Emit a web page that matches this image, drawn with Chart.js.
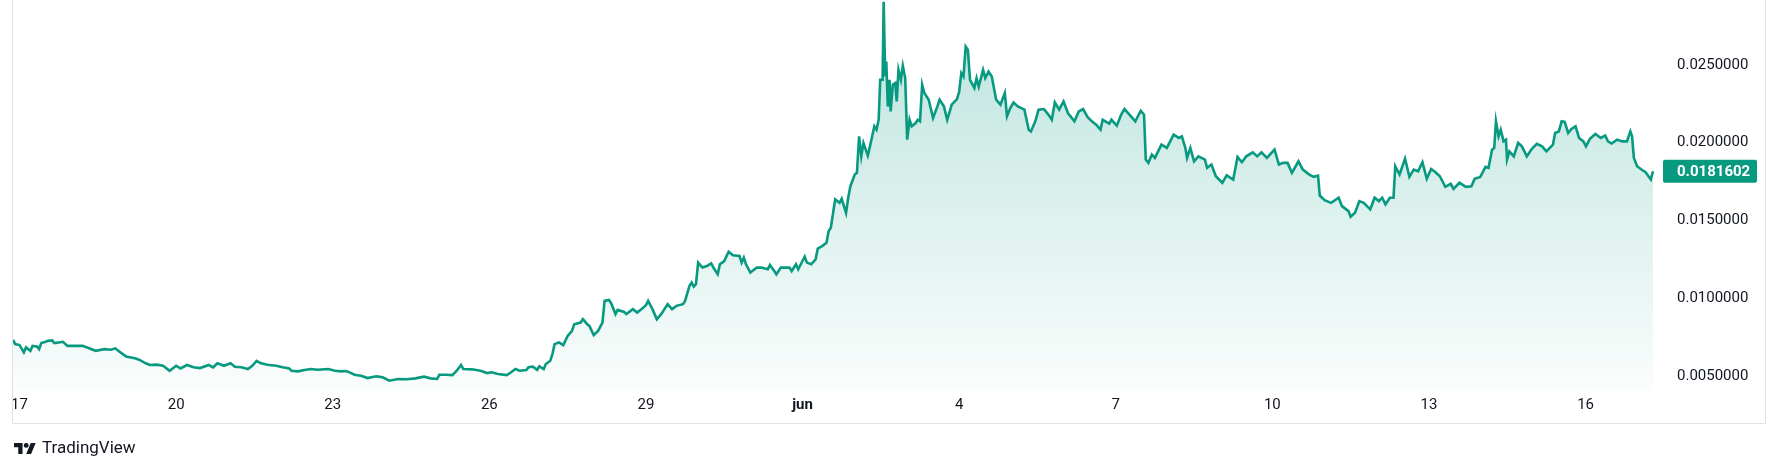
<!DOCTYPE html>
<html>
<head>
<meta charset="utf-8">
<script src="https://cdn.jsdelivr.net/npm/chart.js"></script>
<style>
  html, body { margin: 0; padding: 0; background: #fff; }
  canvas { display: block; }
</style>
</head>
<body>
<canvas id="priceChart" width="1778" height="471"></canvas>
<script>
// hours since 17 may 00:00
const hours = [
  -3, -2, 0, 2, 3, 5, 6, 8, 9, 10, 12, 13, 15, 16, 18, 20, 22, 26, 29, 32, 35, 39, 42, 44, 46, 49, 53, 55, 58, 60,
  63, 66, 69, 72, 74, 77, 80, 83, 87, 89, 91, 94, 97, 99, 102, 105, 107, 109, 111, 114, 118, 121, 124, 125, 128,
  131, 134, 137, 142, 145, 148, 150,
  151, 154, 157, 160, 164, 167, 170, 174, 178, 182, 186, 189, 192, 193, 196, 199, 201, 203, 204, 208, 212, 215,
  217, 220, 224, 226, 228, 230, 233, 234, 236, 238, 239, 241, 242, 244, 245, 246, 248, 250, 252, 254, 255, 258,
  259, 261, 262, 264, 266, 268, 269, 271, 272, 274, 275, 278, 279, 282, 284, 286, 288, 289, 291, 293,
  295, 298, 300, 302, 305, 306, 308, 309, 310, 311, 312, 314, 316, 318, 319, 321, 322, 324, 326, 328, 331, 332,
  333, 334, 336, 339, 341, 344, 345, 347, 348, 350, 354, 355, 357, 358, 361, 362, 364, 366, 367, 369, 371, 372,
  373, 375, 377, 378, 380, 381, 382, 384, 385, 386, 387, 388, 390, 391, 393, 394, 395, 395.7, 396.8, 397.3, 398,
  398.5, 399.2, 400, 400.5, 401.5, 402.6, 403.3, 404.1, 405.2, 406.1, 407.2, 408.1, 409.2, 410.2, 412, 413, 414,
  415, 416, 418, 420, 422, 423, 425, 426.5, 428.6, 431,
  432, 433, 434, 435, 436, 437, 439, 440, 441, 443, 444, 445.5, 447, 448, 449, 451, 453, 454, 455.5, 457, 459,
  462, 464, 465, 467, 468.5, 471, 473, 474.6, 476, 478, 480, 482, 485, 487, 489, 491, 493, 495, 497, 498, 501,
  502, 504.5, 506.5, 508, 511, 513, 514, 515.5, 517, 517.8, 519, 520.6, 522, 525, 527.5, 530.6, 533, 534.4, 536,
  536.8, 538.3, 540, 542, 545, 546, 548, 550, 553, 555, 558, 560, 562, 564, 567, 569, 571, 573.5, 577, 579, 581,
  583, 585, 588,
  590, 593, 595, 597, 597.8, 600, 603, 606.5, 608, 611, 612, 614, 616, 618, 621, 623, 625, 626.5, 628, 630,
  631.7, 632.5, 634.5, 637, 639, 641, 643, 645, 647, 649, 651, 653, 655.5, 658, 659.3, 662, 665, 667.5, 669,
  671.6, 674, 675.4, 677, 678, 678.8, 680, 681, 682.3, 683.4, 683.9, 685, 687, 689, 690.7, 693, 695.3, 697.6,
  700, 702, 705, 706, 707.7, 709, 710.4, 712, 713.5, 715.4, 717, 719, 720.2, 722, 724.5, 727, 729, 730.3, 732,
  734.5, 737, 739, 740.6, 741.4, 742.2, 743.7, 745.7, 747.6, 750, 751
];

const prices = [
  0.00733, 0.00705, 0.00699, 0.00652, 0.00684, 0.00662, 0.00694, 0.00690, 0.00673, 0.00712, 0.00720, 0.00726,
  0.00729, 0.00712, 0.00716, 0.00720, 0.00694, 0.00694, 0.00694, 0.00678, 0.00662, 0.00673, 0.00669, 0.00678,
  0.00656, 0.00626, 0.00614, 0.00605, 0.00582, 0.00571, 0.00573, 0.00566, 0.00534, 0.00566, 0.00549, 0.00571,
  0.00556, 0.00551, 0.00571, 0.00556, 0.00582, 0.00566, 0.00582, 0.00560, 0.00556, 0.00545, 0.00566, 0.00598,
  0.00582, 0.00573, 0.00566, 0.00556, 0.00549, 0.00534, 0.00530, 0.00539, 0.00545, 0.00540, 0.00545, 0.00534,
  0.00530, 0.00532,
  0.00528, 0.00508, 0.00502, 0.00487, 0.00498, 0.00492, 0.00470, 0.00481, 0.00479, 0.00485, 0.00496, 0.00485,
  0.00481, 0.00508, 0.00508, 0.00506, 0.00534, 0.00571, 0.00545, 0.00543, 0.00534, 0.00519, 0.00524, 0.00513,
  0.00506, 0.00524, 0.00545, 0.00534, 0.00539, 0.00556, 0.00560, 0.00540, 0.00562, 0.00545, 0.00577, 0.00598,
  0.00641, 0.00705, 0.00716, 0.00699, 0.00758, 0.00790, 0.00833, 0.00844, 0.00865, 0.00833, 0.00822, 0.00763,
  0.00790, 0.00844, 0.00983, 0.00989, 0.00968, 0.00898, 0.00925, 0.00912, 0.00898, 0.00930, 0.00908, 0.00930,
  0.00955, 0.00983, 0.00930, 0.00865,
  0.00898, 0.00962, 0.00930, 0.00951, 0.00962, 0.00983, 0.01079, 0.01101, 0.01075, 0.01090, 0.01229, 0.01197,
  0.01207, 0.01224, 0.01197, 0.01154, 0.01218, 0.01239, 0.01299, 0.01276, 0.01271, 0.01229, 0.01261, 0.01218,
  0.01165, 0.01197, 0.01197, 0.01186, 0.01214, 0.01175, 0.01154, 0.01197, 0.01197, 0.01175, 0.01218, 0.01186,
  0.01267, 0.01229, 0.01218, 0.01250, 0.01319, 0.01335, 0.01357, 0.01431, 0.01453, 0.01635, 0.01613, 0.01639,
  0.01549, 0.01646, 0.01720, 0.01795, 0.01806, 0.02040, 0.01912, 0.01998, 0.01917, 0.01976, 0.02105, 0.02083,
  0.02147, 0.02404, 0.02404, 0.02906, 0.02425, 0.02521, 0.02233, 0.02404, 0.02201, 0.02372, 0.02383, 0.02265,
  0.02468, 0.02404, 0.02494, 0.02415, 0.02019, 0.02147, 0.02105, 0.02126, 0.02147, 0.02137, 0.02372, 0.02319,
  0.02276, 0.02158, 0.02233, 0.02276, 0.02233, 0.02147, 0.02244, 0.02280,
  0.02327, 0.02447, 0.02425, 0.02617, 0.02596, 0.02404, 0.02351, 0.02415, 0.02361, 0.02468, 0.02415, 0.02457,
  0.02425, 0.02351, 0.02276, 0.02244, 0.02319, 0.02169, 0.02222, 0.02258, 0.02233, 0.02212, 0.02083, 0.02072,
  0.02137, 0.02212, 0.02216, 0.02180, 0.02147, 0.02258, 0.02212, 0.02265, 0.02190, 0.02137, 0.02201, 0.02216,
  0.02165, 0.02137, 0.02115, 0.02083, 0.02147, 0.02122, 0.02147, 0.02109, 0.02180, 0.02216, 0.02169, 0.02137,
  0.02165, 0.02205, 0.02180, 0.01891, 0.01870, 0.01923, 0.01902, 0.01987, 0.01966, 0.02051, 0.02030, 0.02040,
  0.01966, 0.01902, 0.01966, 0.01880, 0.01912, 0.01891, 0.01838, 0.01859, 0.01784, 0.01742, 0.01790, 0.01763,
  0.01908, 0.01874, 0.01912, 0.01938, 0.01912, 0.01938, 0.01902, 0.01955, 0.01859, 0.01870, 0.01870, 0.01806,
  0.01880,
  0.01827, 0.01795, 0.01780, 0.01788, 0.01660, 0.01630, 0.01613, 0.01646, 0.01592, 0.01560, 0.01524, 0.01549,
  0.01624, 0.01613, 0.01571, 0.01646, 0.01624, 0.01646, 0.01603, 0.01646, 0.01646, 0.01848, 0.01795, 0.01897,
  0.01780, 0.01827, 0.01816, 0.01874, 0.01767, 0.01831, 0.01810, 0.01784, 0.01716, 0.01735, 0.01703, 0.01742,
  0.01716, 0.01720, 0.01767, 0.01780, 0.01844, 0.01838, 0.01955, 0.01966, 0.02137, 0.02040, 0.02083, 0.02008,
  0.02019, 0.01891, 0.01944, 0.01912, 0.01998, 0.01976, 0.01912, 0.01960, 0.01992, 0.01976, 0.01944, 0.01987,
  0.02062, 0.02072, 0.02137, 0.02133, 0.02062, 0.02088, 0.02105, 0.02030, 0.02008, 0.01976, 0.02024, 0.02056,
  0.02030, 0.02045, 0.02008, 0.01994, 0.02019, 0.02008, 0.02008, 0.02072, 0.02040, 0.01902, 0.01848, 0.01827,
  0.01810, 0.01763, 0.0181602
];

const tickHours = [0, 72, 144, 216, 288, 360, 432, 504, 576, 648, 720];
const tickLabels = ['17', '20', '23', '26', '29', 'jun', '4', '7', '10', '13', '16'];
const priceTicks = [0.005, 0.01, 0.015, 0.02, 0.025];

const lastPrice = prices[prices.length - 1];
const green = '#089981';
const textColor = '#131722';
const fontFamily = '"Trebuchet MS", Roboto, sans-serif';

const points = hours.map((h, i) => ({ x: h, y: prices[i] }));

// widget frame, last price tag and logo
const framePlugin = {
  id: 'frame',
  afterDraw(chart) {
    const ctx = chart.ctx;
    const area = chart.chartArea;
    const xs = chart.scales.x;
    const ys = chart.scales.y;
    ctx.save();

    ctx.strokeStyle = '#e0e3eb';
    ctx.lineWidth = 1;
    const left = area.left - 0.5;
    const right = chart.width - 12.5;
    const bottom = xs.bottom + 0.5;
    ctx.beginPath();
    ctx.moveTo(left, 0);
    ctx.lineTo(left, bottom);
    ctx.lineTo(right, bottom);
    ctx.lineTo(right, 0);
    ctx.stroke();

    const py = ys.getPixelForValue(lastPrice);
    ctx.fillStyle = green;
    ctx.beginPath();
    ctx.roundRect(area.right, py - 11.5, 94, 23, 2);
    ctx.fill();
    ctx.fillStyle = '#ffffff';
    ctx.font = 'bold 15px ' + fontFamily;
    ctx.textBaseline = 'middle';
    ctx.textAlign = 'left';
    ctx.fillText(lastPrice.toFixed(7), area.right + 14, py + 1);

    // TradingView mark
    const lx = area.left + 1, ly = bottom + 17, s = 0.61;
    ctx.fillStyle = textColor;
    ctx.beginPath();
    ctx.moveTo(lx + 14 * s, ly + 22 * s);
    ctx.lineTo(lx + 7 * s, ly + 22 * s);
    ctx.lineTo(lx + 7 * s, ly + 11 * s);
    ctx.lineTo(lx, ly + 11 * s);
    ctx.lineTo(lx, ly + 4 * s);
    ctx.lineTo(lx + 14 * s, ly + 4 * s);
    ctx.closePath();
    ctx.fill();
    ctx.beginPath();
    ctx.arc(lx + 20 * s, ly + 8 * s, 4 * s, 0, Math.PI * 2);
    ctx.fill();
    ctx.beginPath();
    ctx.moveTo(lx + 28 * s, ly + 22 * s);
    ctx.lineTo(lx + 20 * s, ly + 22 * s);
    ctx.lineTo(lx + 27.5 * s, ly + 4 * s);
    ctx.lineTo(lx + 35.5 * s, ly + 4 * s);
    ctx.closePath();
    ctx.fill();
    ctx.font = '17px ' + fontFamily;
    ctx.fillText('TradingView', lx + 28, ly + 13 * s);

    ctx.restore();
  }
};

new Chart(document.getElementById('priceChart'), {
  type: 'line',
  data: {
    datasets: [{
      data: points,
      borderColor: green,
      borderWidth: 2.6,
      pointRadius: 0,
      tension: 0,
      fill: 'start',
      backgroundColor(context) {
        const { ctx, chartArea } = context.chart;
        if (!chartArea) return null;
        const g = ctx.createLinearGradient(0, chartArea.top, 0, chartArea.bottom);
        g.addColorStop(0, 'rgba(8, 153, 129, 0.28)');
        g.addColorStop(1, 'rgba(8, 153, 129, 0.02)');
        return g;
      }
    }]
  },
  options: {
    responsive: false,
    animation: false,
    devicePixelRatio: 1,
    layout: { padding: { left: 13, right: 0, top: 0, bottom: 48 } },
    plugins: {
      legend: { display: false },
      tooltip: { enabled: false }
    },
    scales: {
      x: {
        type: 'linear',
        min: -3,
        max: 755.6,
        grid: { display: false, drawTicks: false },
        border: { display: false },
        afterBuildTicks: (s) => { s.ticks = tickHours.map(v => ({ value: v })); },
        afterFit: (s) => { s.height = 32; s.paddingLeft = 0; s.paddingRight = 0; },
        ticks: {
          autoSkip: false,
          maxRotation: 0,
          padding: 5,
          color: textColor,
          font: (c) => ({
            family: fontFamily,
            size: 15,
            weight: c.tick && c.tick.label === 'jun' ? 'bold' : 'normal'
          }),
          callback: (v) => tickLabels[tickHours.indexOf(v)]
        }
      },
      y: {
        position: 'right',
        min: 0.004038,
        max: 0.029167,
        grid: { display: false, drawTicks: false },
        border: { display: false },
        afterBuildTicks: (s) => { s.ticks = priceTicks.map(v => ({ value: v })); },
        afterFit: (s) => { s.width = 115; s.paddingTop = 0; s.paddingBottom = 0; },
        ticks: {
          padding: 14,
          color: textColor,
          font: { family: fontFamily, size: 15 },
          callback: (v) => v.toFixed(7)
        }
      }
    }
  },
  plugins: [framePlugin]
});
</script>
</body>
</html>
